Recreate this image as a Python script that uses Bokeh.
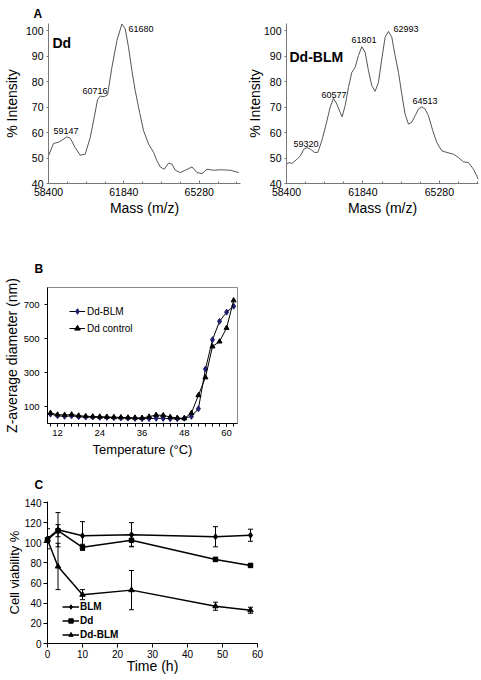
from bokeh.plotting import figure
from bokeh.models import (ColumnDataSource, FixedTicker, Label, Legend, LegendItem,
                          Range1d, Whisker, TeeHead)
from bokeh.layouts import column, row
from bokeh.embed import file_html
from bokeh.resources import INLINE

# ---------------- data: panel A (mass spectra) ----------------
dd_mass = [58400, 58628, 58857, 59009, 59238, 59390, 59618, 59847, 60075, 60304,
           60502, 60639, 60761, 60944, 61096, 61294, 61523, 61751, 61903, 62055,
           62208, 62360, 62558, 62741, 62969, 63197, 63350, 63502, 63685, 63883,
           64035, 64187, 64416, 64644, 64949, 65178, 65406, 65635, 65939, 66244,
           66701, 67081]
dd_int = [50.9, 55.7, 56.2, 57.0, 58.3, 57.8, 54.1, 51.1, 51.5, 58.0,
          66.6, 72.9, 74.3, 74.1, 74.8, 85.6, 96.1, 102.6, 100.7, 93.4,
          84.3, 76.4, 67.9, 60.7, 55.5, 52.2, 48.9, 46.5, 45.6, 48.0,
          47.6, 45.2, 44.3, 45.2, 46.5, 44.3, 43.9, 45.6, 45.2, 45.4,
          45.2, 44.3]
ddblm_mass = [58400, 58505, 58655, 58880, 59030, 59180, 59329, 59479, 59659, 59809,
              59989, 60184, 60364, 60514, 60664, 60814, 60904, 61038, 61188, 61338,
              61488, 61638, 61788, 61938, 62088, 62238, 62388, 62538, 62688, 62838,
              62988, 63138, 63288, 63438, 63588, 63738, 63888, 64038, 64188, 64338,
              64488, 64638, 64788, 64983, 65163, 65388, 65613, 65913, 66138, 66363,
              66588, 66813, 66963, 67030]
ddblm_int = [47.5, 48.2, 47.9, 49.6, 50.9, 53.5, 54.1, 53.5, 52.2, 52.2,
             56.8, 63.3, 69.9, 73.4, 71.2, 67.9, 66.2, 70.5, 77.7, 83.6,
             85.6, 90.2, 93.7, 91.5, 84.3, 78.4, 76.2, 79.7, 88.9, 97.4,
             99.7, 97.4, 90.2, 83.6, 75.1, 67.2, 63.3, 64.0, 66.6, 69.2,
             70.1, 69.2, 66.6, 60.7, 56.1, 52.8, 52.2, 51.5, 50.2, 48.5,
             48.2, 45.6, 43.0, 41.6]
mass_ticks = [58400, 61840, 65280]
intensity_ticks = [40, 50, 60, 70, 80, 90, 100]

dd_peak_labels = ["59147", "60716", "61680"]
ddblm_peak_labels = ["59320", "60577", "61801", "62993", "64513"]

# label anchor positions (layout, data units)
dd_label_x = [58628, 59950, 62052]
dd_label_y = [60.8, 76.5, 100.8]
ddblm_label_x = [58715, 59974, 61323, 63212, 64066]
ddblm_label_y = [55.7, 74.9, 96.5, 100.8, 72.2]

# ---------------- data: panel B (DLS) ----------------
temperature = [10, 12, 14, 16, 18, 20, 22, 24, 26, 28, 30, 32, 34, 36, 38, 40, 42, 44,
               46, 48, 50, 52, 54, 56, 58, 60, 62]
diam_ddblm = [55, 46, 42, 45, 40, 38, 38, 36, 36, 34, 33, 32, 30, 28, 29, 31, 30, 28,
              28, 31, 42, 87, 320, 493, 601, 655, 690]
diam_ddctrl = [62, 52, 50, 53, 46, 43, 41, 40, 39, 37, 36, 35, 34, 33, 40, 50, 48, 38,
               33, 30, 61, 166, 271, 453, 482, 562, 724]
temp_ticks = [12, 24, 36, 48, 60]
diam_ticks = [100, 300, 500, 700]

# ---------------- data: panel C (viability) ----------------
time_h = [0, 3, 10, 24, 48, 58]
via_blm = [104, 113, 107, 108, 106, 107.5]
err_blm = [10, 17, 14, 12, 10, 6]
via_dd = [103, 112, 95.5, 102.5, 83.5, 77.5]
err_dd = [3, 6, 3, 6, 2, 1.5]
via_ddblm = [103, 76.5, 48.5, 53, 37, 33]
err_ddblm = [3, 23, 5, 19.5, 4, 3]
time_ticks = [0, 10, 20, 30, 40, 50, 60]
via_ticks = [0, 20, 40, 60, 80, 100, 120, 140]

FONT = "Liberation Sans"
NARROW = "Liberation Sans Narrow, Liberation Sans"


def base_style(p):
    p.grid.grid_line_color = None
    p.background_fill_color = "white"
    p.border_fill_color = "white"
    for ax in p.axis:
        ax.axis_label_text_font = FONT
        ax.axis_label_text_font_style = "normal"
        ax.axis_label_text_color = "black"
        ax.major_label_text_color = "black"
        ax.major_label_text_font = NARROW
        ax.minor_tick_line_color = None


def panel_title(p, letter, standoff, offset):
    p.title.text = letter
    p.title.text_font = FONT
    p.title.text_font_size = "12px"
    p.title.text_font_style = "bold"
    p.title.text_color = "black"
    p.title.align = "left"
    p.title.offset = offset
    p.title.standoff = standoff


def add_text(p, x, y, text, size, bold=False):
    p.add_layout(Label(x=x, y=y, text=text, text_font=FONT, text_font_size=size,
                       text_font_style="bold" if bold else "normal",
                       text_color="black", text_baseline="middle"))


# ---------------- Panel A ----------------
def mass_fig(xmax, left, right, title=None):
    kw = dict(frame_width=192, frame_height=160,
              x_range=Range1d(58400, xmax), y_range=Range1d(40, 102.8),
              output_backend="svg", toolbar_location=None,
              min_border_left=left, min_border_right=right,
              min_border_top=23, min_border_bottom=62,
              x_axis_label="Mass (m/z)", y_axis_label="% Intensity")
    if title:
        kw["title"] = title
    p = figure(**kw)
    base_style(p)
    p.outline_line_color = None
    minor = [mass_ticks[0] + 860 * i for i in range(11)]
    p.xaxis.ticker = FixedTicker(ticks=mass_ticks, minor_ticks=minor)
    p.yaxis.ticker = FixedTicker(ticks=intensity_ticks)
    for ax in p.axis:
        ax.axis_line_color = "#777777"
        ax.major_tick_line_color = "#777777"
        ax.major_label_text_font_size = "10.5px"
        ax.axis_label_text_font_size = "14px"
    p.xaxis.major_tick_in = 3
    p.xaxis.major_tick_out = 0
    p.xaxis.minor_tick_line_color = "#777777"
    p.xaxis.minor_tick_in = 2
    p.xaxis.minor_tick_out = 0
    p.xaxis.major_label_standoff = 4
    p.xaxis.axis_label_standoff = 1
    p.yaxis.major_tick_in = 0
    p.yaxis.major_tick_out = 2
    p.yaxis.major_label_standoff = 3
    return p


pA1 = mass_fig(67165, 48, 2, title="A")
panel_title(pA1, "A", 5, -15)
pA1.yaxis.axis_label_standoff = 3
pA1.line(dd_mass, dd_int, line_color="#555555", line_width=1)
add_text(pA1, 58583, 95.3, "Dd", "14px", bold=True)
for t, x, y in zip(dd_peak_labels, dd_label_x, dd_label_y):
    add_text(pA1, x, y, t, "9px")

pA2 = mass_fig(67040, 44, 3)
pA2.yaxis.axis_label_standoff = -2
pA2.line(ddblm_mass, ddblm_int, line_color="#555555", line_width=1)
add_text(pA2, 58535, 89.8, "Dd-BLM", "14px", bold=True)
for t, x, y in zip(ddblm_peak_labels, ddblm_label_x, ddblm_label_y):
    add_text(pA2, x, y, t, "9px")

# ---------------- Panel B ----------------
pB = figure(frame_width=190, frame_height=136,
            x_range=Range1d(9.15, 63.1), y_range=Range1d(0, 800),
            output_backend="svg", toolbar_location=None,
            min_border_left=47, min_border_right=5, min_border_top=42, min_border_bottom=40,
            title="B", x_axis_label="Temperature (°C)", y_axis_label="Z-average diameter (nm)")
base_style(pB)
panel_title(pB, "B", 24, -13)
pB.outline_line_color = "#888888"
pB.xaxis.ticker = FixedTicker(ticks=temp_ticks, minor_ticks=list(range(10, 64, 2)))
pB.yaxis.ticker = FixedTicker(ticks=diam_ticks)
for ax in pB.axis:
    ax.axis_line_color = "black"
    ax.major_tick_line_color = "black"
    ax.major_tick_in = 0
    ax.major_tick_out = 3
    ax.major_label_text_font_size = "9.5px"
pB.xaxis.minor_tick_line_color = "black"
pB.xaxis.minor_tick_in = 0
pB.xaxis.minor_tick_out = 3
pB.xaxis.major_label_standoff = 3
pB.xaxis.axis_label_standoff = 3
pB.xaxis.axis_label_text_font_size = "13px"
pB.yaxis.major_label_standoff = 5
pB.yaxis.axis_label_standoff = 1
pB.yaxis.axis_label_text_font_size = "14px"

lb1 = pB.line(temperature, diam_ddblm, line_color="black", line_width=1)
sb1 = pB.scatter(temperature, diam_ddblm, marker="diamond", size=6,
                 fill_color="#1f1f6e", line_color="#1f1f6e")
lb2 = pB.line(temperature, diam_ddctrl, line_color="black", line_width=1)
sb2 = pB.scatter(temperature, diam_ddctrl, marker="triangle", size=5,
                 fill_color="black", line_color="black")
legB = Legend(items=[LegendItem(label="Dd-BLM", renderers=[lb1, sb1]),
                     LegendItem(label="Dd control", renderers=[lb2, sb2])],
              location=(22, 88), margin=0, padding=2, spacing=3,
              label_height=14, glyph_height=14, glyph_width=16, label_standoff=2,
              border_line_color=None, background_fill_alpha=0,
              label_text_font=FONT, label_text_font_size="10px",
              label_text_color="black")
pB.add_layout(legB)

# ---------------- Panel C ----------------
pC = figure(frame_width=210, frame_height=142,
            x_range=Range1d(0, 60), y_range=Range1d(0, 141),
            output_backend="svg", toolbar_location=None,
            min_border_left=46, min_border_right=12, min_border_top=38, min_border_bottom=37,
            title="C", x_axis_label="Time (h)", y_axis_label="Cell viability %")
base_style(pC)
panel_title(pC, "C", 20, -13)
pC.outline_line_color = None
pC.xaxis.ticker = FixedTicker(ticks=time_ticks)
pC.yaxis.ticker = FixedTicker(ticks=via_ticks)
for ax in pC.axis:
    ax.axis_line_color = "black"
    ax.major_tick_line_color = "black"
    ax.major_tick_in = 0
    ax.major_tick_out = 4
    ax.major_label_text_font_size = "10px"
    ax.major_label_standoff = 2
pC.xaxis.axis_label_text_font = NARROW
pC.xaxis.axis_label_text_font_size = "14px"
pC.xaxis.axis_label_standoff = -3
pC.yaxis.axis_label_text_font_size = "13px"
pC.yaxis.axis_label_standoff = 0

series = [("BLM", via_blm, err_blm, "diamond", 6),
          ("Dd", via_dd, err_dd, "square", 4.5),
          ("Dd-BLM", via_ddblm, err_ddblm, "triangle", 5.5)]
itemsC = []
for name, vals, errs, mk, sz in series:
    src = ColumnDataSource(dict(t=time_h, v=vals,
                                up=[v + e for v, e in zip(vals, errs)],
                                lo=[v - e for v, e in zip(vals, errs)]))
    pC.add_layout(Whisker(base="t", upper="up", lower="lo", source=src,
                          line_color="black", line_width=1,
                          upper_head=TeeHead(size=5, line_color="black", line_width=1),
                          lower_head=TeeHead(size=5, line_color="black", line_width=1)))
    lr = pC.line("t", "v", source=src, line_color="black", line_width=1.5)
    sr = pC.scatter("t", "v", source=src, marker=mk, size=sz,
                    fill_color="black", line_color="black", level="overlay")
    itemsC.append(LegendItem(label=name, renderers=[lr, sr]))
legC = Legend(items=itemsC, location=(15, 3), margin=0, padding=2, spacing=3,
              label_height=11, glyph_height=11, glyph_width=17, label_standoff=1,
              border_line_color=None, background_fill_alpha=0,
              label_text_font=FONT, label_text_font_size="10px",
              label_text_font_style="bold", label_text_color="black")
pC.add_layout(legC)

layout = column(row(pA1, pA2), pB, pC)
open("out.html", "w").write(file_html(layout, INLINE))
